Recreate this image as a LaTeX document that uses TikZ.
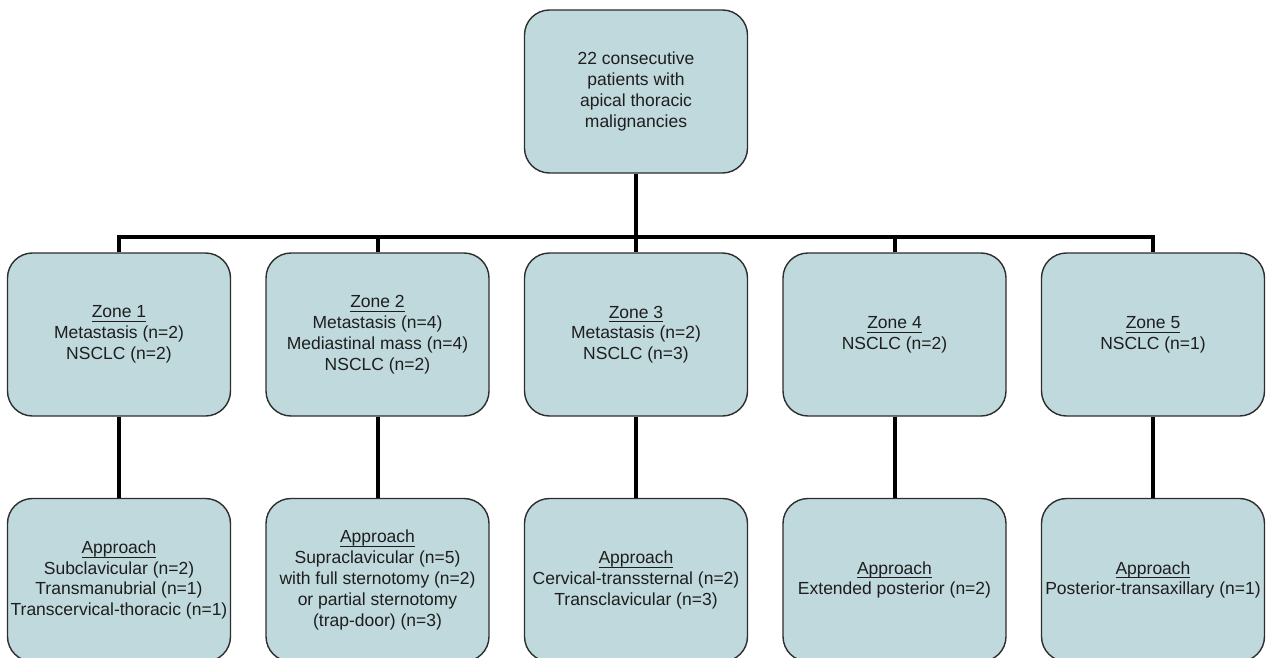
\documentclass[tikz,border=0pt]{standalone}
\usepackage{fontspec}
\setmainfont{Liberation Sans}
\definecolor{boxfill}{RGB}{192,217,221}
\definecolor{boxline}{RGB}{45,45,45}
\definecolor{txt}{RGB}{30,30,30}
\newcommand\zul[1]{\setbox0\hbox{#1}\rlap{\rule[-4.2pt]{\wd0}{1pt}}\box0}
\begin{document}
\begin{tikzpicture}[x=1pt,y=-1pt,
  fbox/.style={draw=boxline, line width=1.4pt, fill=boxfill, rounded corners=25pt,
    minimum width=223pt, minimum height=163pt, inner sep=1pt, align=center,
    text=txt, font=\fontsize{17.5}{20.8}\selectfont},
  conn/.style={line width=4pt, black}]
\useasboundingbox (0,0) rectangle (1268,658);
\begin{scope}
\clip (0,0) rectangle (1268,658);
\node[fbox] (top) at (636,91.5) {22 consecutive\\patients with\\apical thoracic\\malignancies};
\coordinate (j) at (636,237);
\node[fbox] (z1) at (119,334.5) {\zul{Zone 1}\\Metastasis (n=2)\\NSCLC (n=2)};
\node[fbox] (z2) at (377.5,334.5) {\zul{Zone 2}\\Metastasis (n=4)\\Mediastinal mass (n=4)\\NSCLC (n=2)};
\node[fbox] (z3) at (636,334.5) {\zul{Zone 3}\\Metastasis (n=2)\\NSCLC (n=3)};
\node[fbox] (z4) at (894.5,334.5) {\zul{Zone 4}\\NSCLC (n=2)};
\node[fbox] (z5) at (1153,334.5) {\zul{Zone 5}\\NSCLC (n=1)};
\node[fbox] (a1) at (119,580) {\zul{Approach}\\Subclavicular (n=2)\\Transmanubrial (n=1)\\Transcervical-thoracic (n=1)};
\node[fbox] (a2) at (377.5,580) {\zul{Approach}\\Supraclavicular (n=5)\\with full sternotomy (n=2)\\or partial sternotomy\\(trap-door) (n=3)};
\node[fbox] (a3) at (636,580) {\zul{Approach}\\Cervical-transsternal (n=2)\\Transclavicular (n=3)};
\node[fbox] (a4) at (894.5,580) {\zul{Approach}\\Extended posterior (n=2)};
\node[fbox] (a5) at (1153,580) {\zul{Approach}\\Posterior-transaxillary (n=1)};
\draw[conn] (top.south) -- (j);
\draw[conn] (z1.north) |- (j) -| (z5.north);
\draw[conn] (z2.north) -- (z2.north |- j);
\draw[conn] (z3.north) -- (j);
\draw[conn] (z4.north) -- (z4.north |- j);
\foreach \i in {1,...,5} {\draw[conn] (z\i.south) -- (a\i.north);}
\end{scope}
\end{tikzpicture}
\end{document}
